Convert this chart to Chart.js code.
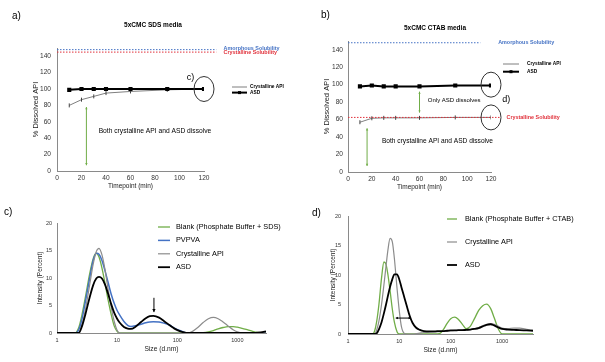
<!DOCTYPE html>
<html>
<head>
<meta charset="utf-8">
<script src="https://cdn.jsdelivr.net/npm/chart.js@4.4.1/dist/chart.umd.min.js"></script>
<style>
  body { margin: 0; width: 605px; height: 362px; position: relative; background: #fff; overflow: hidden; }
  canvas { position: absolute; }
</style>
</head>
<body>
<canvas id="chartA" width="300" height="195" style="left:0;top:0"></canvas>
<canvas id="chartB" width="305" height="195" style="left:300px;top:0"></canvas>
<canvas id="chartC" width="300" height="167" style="left:0;top:195px"></canvas>
<canvas id="chartD" width="305" height="167" style="left:300px;top:195px"></canvas>
<script>
// dissolution (panels a, b)
const timeA = [10, 20, 30, 40, 60, 90, 120];
const crystA = [80, 87, 91, 95, 97, 99, 100];
const asdA = [99, 100, 100, 100, 100, 100, 100];
const crystB = [57, 61.5, 62, 62, 62, 62.5, 62.5];
const asdB = [98, 99, 98, 98, 98, 99, 99];
const timeTicks = [0, 20, 40, 60, 80, 100, 120];
const pctTicks = [0, 20, 40, 60, 80, 100, 120, 140];
const amorphousSol = 148;
const crystSolA = 145;
const crystSolB = 62.5;

// DLS size distributions (panels c, d)
const sizesC = [1, 2, 2.3, 2.6, 3, 3.5, 4, 4.5, 5, 5.6, 6.3, 7, 8, 9, 10, 11, 13, 15, 17, 20, 25, 30, 35, 40, 50, 60, 75, 90, 110, 130, 150, 180, 220, 270, 330, 400, 480, 580, 700, 850, 1000, 1200, 1500, 1800, 2200, 2600, 3000];
const blankSDS = [0, 0, 1.0, 3.3, 6.8, 10.8, 13.5, 14.5, 13.8, 11.8, 9.0, 6.3, 3.3, 1.2, 0.3, 0, 0, 0, 0, 0, 0, 0, 0, 0, 0, 0, 0, 0, 0, 0, 0, 0, 0, 0.05, 0.2, 0.45, 0.75, 1.0, 1.15, 1.15, 1.05, 0.85, 0.55, 0.3, 0.1, 0.02, 0];
const pvpva = [0, 0, 0.6, 2.5, 6.0, 10.0, 13.2, 14.5, 14.3, 13.2, 11.3, 9.4, 7.0, 5.3, 4.1, 3.3, 2.1, 1.4, 1.2, 1.3, 1.6, 1.85, 2.0, 2.06, 2.0, 1.8, 1.4, 0.9, 0.45, 0.15, 0, 0, 0, 0, 0, 0, 0, 0, 0, 0, 0, 0, 0, 0, 0, 0, 0];
const crystC = [0, 0, 0.1, 1.5, 4.5, 8.8, 12.5, 14.8, 15.4, 14.2, 11.5, 8.3, 4.6, 2.0, 0.5, 0, 0, 0, 0, 0, 0, 0, 0, 0, 0, 0, 0, 0, 0, 0, 0, 0.3, 1.0, 1.9, 2.6, 2.85, 2.6, 2.0, 1.3, 0.6, 0.2, 0, 0, 0, 0, 0, 0];
const asdC = [0, 0, 0, 1.2, 3.6, 6.5, 8.7, 9.9, 10.2, 9.9, 8.8, 7.3, 5.2, 3.6, 2.6, 1.9, 1.1, 0.8, 0.75, 1.1, 2.0, 2.7, 3.05, 3.1, 2.8, 2.2, 1.4, 0.8, 0.35, 0.1, 0, 0, 0, 0, 0, 0, 0, 0, 0, 0, 0, 0, 0, 0, 0.05, 0.15, 0.3];

const sizesD = [1, 3, 3.3, 3.6, 4, 4.5, 5, 5.5, 6, 6.6, 7.3, 8, 9, 10, 11, 12.5, 14, 16, 18, 21, 25, 30, 40, 50, 60, 70, 85, 100, 120, 140, 170, 200, 240, 290, 350, 420, 500, 600, 700, 850, 1000, 1300, 1700, 2200, 3000, 4000];
const blankCTAB = [0, 0, 0.5, 2.0, 5.0, 9.5, 12.2, 11.8, 10.0, 7.3, 4.2, 2.0, 0.4, 0, 0, 0, 0, 0, 0, 0, 0, 0, 0, 0, 0.05, 0.6, 1.8, 2.6, 2.85, 2.5, 1.6, 0.9, 1.3, 2.6, 4.0, 4.8, 5.05, 4.3, 2.8, 0.8, 0, 0, 0, 0, 0, 0];
const crystD = [0, 0, 0, 0.6, 2.2, 5.0, 8.3, 11.5, 14.3, 16.2, 15.6, 12.8, 7.8, 3.8, 1.2, 0.1, 0, 0, 0, 0.05, 0.15, 0.25, 0.3, 0.35, 0.4, 0.45, 0.5, 0.55, 0.6, 0.6, 0.65, 0.7, 0.75, 0.9, 1.1, 1.4, 1.65, 1.75, 1.65, 1.3, 1.0, 0.9, 1.0, 1.0, 0.8, 0.6];
const asdD = [0, 0, 0, 0.1, 0.8, 2.0, 3.5, 5.0, 6.5, 8.0, 9.3, 10.1, 10.1, 9.2, 7.9, 6.2, 4.7, 3.0, 1.9, 1.1, 0.7, 0.5, 0.45, 0.45, 0.5, 0.5, 0.55, 0.6, 0.6, 0.65, 0.65, 0.7, 0.75, 0.85, 1.0, 1.3, 1.55, 1.65, 1.45, 1.1, 0.85, 0.75, 0.7, 0.65, 0.6, 0.55];
const sizeTicks = [1, 10, 100, 1000];
const intTicks = [0, 5, 10, 15, 20];

const FONT = '"Liberation Sans", Arial, sans-serif';
const GREEN = '#70ad47', BLUE = '#4472c4', RED = '#e0303a', GREY = '#8c8c8c';
Chart.defaults.font.family = FONT;

const pairs = (xs, ys) => xs.map((x, i) => ({ x: x, y: ys[i] }));

// titles, legends and the drawn notes (dashed lines, arrows, circles)
const annotate = {
  id: 'annotate',
  afterDraw(chart, args, o) {
    const ctx = chart.ctx;
    const px = v => chart.scales.x.getPixelForValue(v);
    const py = v => chart.scales.y.getPixelForValue(v);
    ctx.save();
    ctx.textBaseline = 'middle';
    ctx.fillStyle = '#000';
    if (o.tag) {
      ctx.font = '10px ' + FONT; ctx.textAlign = 'left';
      ctx.fillText(o.tag[0], o.tag[1], o.tag[2]);
    }
    if (o.heading) {
      ctx.font = 'bold 6.5px ' + FONT; ctx.textAlign = 'center';
      ctx.fillText(o.heading[0], o.heading[1], o.heading[2]);
    }
    if (o.keys) {
      const k = o.keys;
      ctx.font = k.font; ctx.textAlign = 'left';
      chart.data.datasets.forEach((ds, i) => {
        const yy = k.y + i * k.gap;
        ctx.strokeStyle = ds.borderColor; ctx.lineWidth = ds.borderWidth;
        ctx.beginPath(); ctx.moveTo(k.x0, yy); ctx.lineTo(k.x1, yy); ctx.stroke();
        if (ds.pointStyle === 'rect') {
          ctx.fillStyle = ds.borderColor;
          ctx.fillRect((k.x0 + k.x1) / 2 - 1.5, yy - 1.5, 3, 3);
        }
        ctx.fillStyle = '#000';
        ctx.fillText(ds.label, k.tx, yy);
      });
    }
    (o.notes || []).forEach(n => {
      ctx.strokeStyle = n.color || '#000';
      ctx.fillStyle = n.color || '#000';
      ctx.lineWidth = 1;
      if (n.type === 'hline') {
        ctx.setLineDash([1.5, 1.5]);
        ctx.beginPath(); ctx.moveTo(px(n.from), py(n.y)); ctx.lineTo(px(n.to), py(n.y)); ctx.stroke();
        ctx.setLineDash([]);
      } else if (n.type === 'text') {
        ctx.font = n.font + ' ' + FONT; ctx.textAlign = 'left';
        ctx.fillText(n.text, px(n.x), py(n.y) + (n.dy || 0));
      } else if (n.type === 'ellipse') {
        ctx.strokeStyle = '#333';
        ctx.beginPath(); ctx.ellipse(px(n.x), py(n.y), n.rx, n.ry, 0, 0, Math.PI * 2); ctx.stroke();
      } else if (n.type === 'arrow') {
        const x0 = px(n.x0), y0 = py(n.y0), x1 = px(n.x1), y1 = py(n.y1);
        ctx.beginPath(); ctx.moveTo(x0, y0); ctx.lineTo(x1, y1); ctx.stroke();
        const head = (ax, ay, bx, by) => {
          const a = Math.atan2(ay - by, ax - bx), h = n.head || 3;
          ctx.beginPath();
          ctx.moveTo(ax - h * Math.cos(a - 0.5), ay - h * Math.sin(a - 0.5));
          ctx.lineTo(ax, ay);
          ctx.lineTo(ax - h * Math.cos(a + 0.5), ay - h * Math.sin(a + 0.5));
          if (n.fill) { ctx.closePath(); ctx.fill(); } else ctx.stroke();
        };
        head(x1, y1, x0, y0);
        if (n.both) head(x0, y0, x1, y1);
      }
    });
    ctx.restore();
  }
};
Chart.register(annotate);

function axis(o) {
  return {
    type: o.type || 'linear',
    min: o.min, max: o.max,
    grid: { display: false, drawTicks: false },
    border: { display: true, color: '#8a8a8a', width: 1 },
    ticks: { font: { size: o.tickSize }, color: '#333', padding: o.pad, autoSkip: false, maxRotation: 0, callback: v => String(v) },
    title: { display: true, text: o.title, font: { size: o.titleSize }, color: '#222', padding: 0 },
    afterBuildTicks: s => { s.ticks = o.ticks.map(v => ({ value: v })); },
    afterFit: s => { if (s.isHorizontal()) s.height = o.size; else s.width = o.size; }
  };
}

function baseOptions(padding, scales, annot) {
  return {
    responsive: false, animation: false, devicePixelRatio: 1, events: [],
    layout: { padding: padding },
    scales: scales,
    plugins: { legend: { display: false }, tooltip: { enabled: false }, annotate: annot }
  };
}

function dissolutionSets(cryst, asd) {
  return [
    { label: 'Crystalline API', data: pairs(timeA, cryst), borderColor: '#7f7f7f', borderWidth: 1, pointStyle: 'line', rotation: 90, pointRadius: 2, pointBorderColor: '#444', pointBorderWidth: 1, order: 1 },
    { label: 'ASD', data: pairs(timeA, asd), borderColor: '#000', borderWidth: 2, pointStyle: 'rect', pointRadius: 1.5, pointBackgroundColor: '#000', pointBorderColor: '#000', order: 0 }
  ];
}

function dlsSet(label, sizes, vals, color, width, order) {
  return { label: label, data: pairs(sizes, vals), borderColor: color, borderWidth: width, pointRadius: 0, cubicInterpolationMode: 'monotone', order: order };
}

// a) SDS dissolution
new Chart(document.getElementById('chartA'), {
  type: 'line',
  data: { datasets: dissolutionSets(crystA, asdA) },
  options: baseOptions({ left: 31, right: 96, top: 48, bottom: 5 }, {
    x: axis({ min: 0, max: 120, ticks: timeTicks, title: 'Timepoint (min)', tickSize: 6.6, titleSize: 6.5, pad: 3, size: 19 }),
    y: axis({ min: 0, max: 150, ticks: pctTicks, title: '% Dissolved API', tickSize: 6.6, titleSize: 7.5, pad: 6, size: 26 })
  }, {
    tag: ['a)', 12, 16],
    heading: ['5xCMC SDS media', 153, 25],
    keys: { x0: 232, x1: 247, tx: 250, y: 87, gap: 5.6, font: 'bold 4.8px ' + FONT },
    notes: [
      { type: 'hline', y: amorphousSol, from: 0, to: 130, color: BLUE },
      { type: 'hline', y: crystSolA, from: 0, to: 130, color: RED },
      { type: 'text', x: 136, y: amorphousSol, dy: -1.5, text: 'Amorphous Solubility', font: 'bold 5.4px', color: BLUE },
      { type: 'text', x: 136, y: crystSolA, dy: 0.5, text: 'Crystalline Solubility', font: 'bold 5.4px', color: RED },
      { type: 'arrow', x0: 24, y0: 78, x1: 24, y1: 7, both: true, color: GREEN, head: 2.5 },
      { type: 'text', x: 34, y: 49, text: 'Both crystalline API and ASD dissolve', font: '6.7px' },
      { type: 'ellipse', x: 120, y: 100, rx: 10, ry: 12.5 },
      { type: 'text', x: 106, y: 114, text: 'c)', font: '9px' }
    ]
  })
});

// b) CTAB dissolution
new Chart(document.getElementById('chartB'), {
  type: 'line',
  data: { datasets: dissolutionSets(crystB, asdB) },
  options: baseOptions({ left: 22, right: 114, top: 41, bottom: 4 }, {
    x: axis({ min: 0, max: 120, ticks: timeTicks, title: 'Timepoint (min)', tickSize: 6.6, titleSize: 6.5, pad: 3, size: 19 }),
    y: axis({ min: 0, max: 150, ticks: pctTicks, title: '% Dissolved API', tickSize: 6.6, titleSize: 7.5, pad: 5, size: 26 })
  }, {
    tag: ['b)', 21, 15],
    heading: ['5xCMC CTAB media', 135, 28],
    keys: { x0: 203, x1: 219, tx: 227, y: 64, gap: 7.7, font: 'bold 4.8px ' + FONT },
    notes: [
      { type: 'hline', y: amorphousSol, from: 0, to: 111, color: BLUE },
      { type: 'hline', y: crystSolB, from: 0, to: 128, color: RED },
      { type: 'text', x: 126, y: amorphousSol, text: 'Amorphous Solubility', font: 'bold 5.4px', color: BLUE },
      { type: 'text', x: 133, y: crystSolB, text: 'Crystalline Solubility', font: 'bold 5.4px', color: RED },
      { type: 'arrow', x0: 60, y0: 92, x1: 60, y1: 68, both: true, color: GREEN, head: 2.5 },
      { type: 'arrow', x0: 16, y0: 50, x1: 16, y1: 7, both: true, color: GREEN, head: 2.5 },
      { type: 'text', x: 67, y: 81.5, text: 'Only ASD dissolves', font: '6px' },
      { type: 'text', x: 28.5, y: 35.6, text: 'Both crystalline API and ASD dissolve', font: '6.6px' },
      { type: 'ellipse', x: 120, y: 100, rx: 10, ry: 12.5 },
      { type: 'ellipse', x: 120, y: crystSolB, rx: 10, ry: 12.5 },
      { type: 'text', x: 129.5, y: 82.7, text: 'd)', font: '9px' }
    ]
  })
});

// c) DLS in SDS media
new Chart(document.getElementById('chartC'), {
  type: 'line',
  data: { datasets: [
    dlsSet('Blank (Phosphate Buffer + SDS)', sizesC, blankSDS, GREEN, 1.3, 3),
    dlsSet('PVPVA', sizesC, pvpva, BLUE, 1.5, 2),
    dlsSet('Crystalline API', sizesC, crystC, GREY, 1.2, 1),
    dlsSet('ASD', sizesC, asdC, '#000', 1.8, 0)
  ]},
  options: baseOptions({ left: 36, right: 34, top: 28, bottom: 9 }, {
    x: axis({ type: 'logarithmic', min: 1, max: 3000, ticks: sizeTicks, title: 'Size (d.nm)', tickSize: 5.5, titleSize: 6.7, pad: 4, size: 20 }),
    y: axis({ min: 0, max: 20, ticks: intTicks, title: 'Intensity (Percent)', tickSize: 5.5, titleSize: 6.5, pad: 5, size: 21 })
  }, {
    tag: ['c)', 4, 17],
    keys: { x0: 158, x1: 170, tx: 176, y: 32, gap: 13.4, font: '7.3px ' + FONT },
    notes: [
      { type: 'arrow', x0: 41, y0: 6.4, x1: 41, y1: 3.8, color: '#000', head: 3.5, fill: true }
    ]
  })
});

// d) DLS in CTAB media
new Chart(document.getElementById('chartD'), {
  type: 'line',
  data: { datasets: [
    dlsSet('Blank (Phosphate Buffer + CTAB)', sizesD, blankCTAB, GREEN, 1.3, 2),
    dlsSet('Crystalline API', sizesD, crystD, GREY, 1.2, 1),
    dlsSet('ASD', sizesD, asdD, '#000', 1.8, 0)
  ]},
  options: baseOptions({ left: 29, right: 72, top: 21, bottom: 8 }, {
    x: axis({ type: 'logarithmic', min: 1, max: 4000, ticks: sizeTicks, title: 'Size (d.nm)', tickSize: 5.5, titleSize: 6.7, pad: 4, size: 20 }),
    y: axis({ min: 0, max: 20, ticks: intTicks, title: 'Intensity (Percent)', tickSize: 5.5, titleSize: 6.5, pad: 7, size: 19 })
  }, {
    tag: ['d)', 12, 18],
    keys: { x0: 147, x1: 157, tx: 165, y: 24, gap: 23, font: '7.3px ' + FONT },
    notes: [
      { type: 'arrow', x0: 8.5, y0: 2.7, x1: 16.7, y1: 2.7, both: true, color: '#000', head: 2.5, fill: true }
    ]
  })
});
</script>
</body>
</html>
